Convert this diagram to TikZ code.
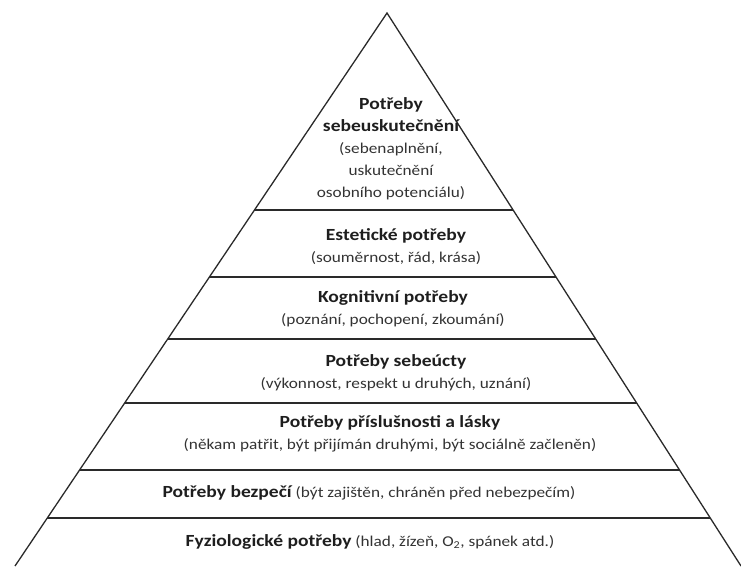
\documentclass[tikz,border=0pt]{standalone}
\usepackage{fontspec}
\setmainfont[FakeStretch=1.15]{Carlito}
\usetikzlibrary{calc}
\definecolor{inkc}{HTML}{1E1E1E}
\definecolor{subc}{HTML}{333333}
\definecolor{linec}{HTML}{2A2A2A}
\tikzset{
  side/.style={draw=linec, line width=1.3pt},
  tier/.style={draw=linec, line width=1.7pt},
  lbl/.style={text=subc, align=center, inner sep=0pt,
    font=\fontsize{15}{22}\selectfont},
}
\newcommand{\ttl}[1]{{\fontsize{17}{22}\selectfont\bfseries\color{inkc}#1}}
\begin{document}
\begin{tikzpicture}[x=1pt,y=-1pt]
\useasboundingbox (0,0) rectangle (741,566);
\coordinate (A) at (387,13);
\coordinate (BL) at (15,566);
\coordinate (BR) at (741,566);
\draw[side] (BL) -- (A) -- (BR);
\foreach \t/\n in {0.3562/1,0.4774/2,0.5895/3,0.7052/4,0.8264/5,0.9132/6}{
  \coordinate (L\n) at ($(A)!\t!(BL)$);
  \coordinate (R\n) at ($(A)!\t!(BR)$);
  \draw[tier] (L\n) -- (R\n);
}
\node[lbl] (t1) at (391,149) {\ttl{Potřeby}\\\ttl{sebeuskutečnění}\\(sebenaplnění,\\uskutečnění\\osobního potenciálu)};
\node[lbl] (t2) at (396,247) {\ttl{Estetické potřeby}\\(souměrnost, řád, krása)};
\node[lbl] (t3) at (393,309) {\ttl{Kognitivní potřeby}\\(poznání, pochopení, zkoumání)};
\node[lbl] (t4) at (396,373) {\ttl{Potřeby sebeúcty}\\(výkonnost, respekt u druhých, uznání)};
\node[lbl] (t5) at (390,434) {\ttl{Potřeby příslušnosti a lásky}\\(někam patřit, být přijímán druhými, být sociálně začleněn)};
\node[lbl] (t6) at (369,493) {\ttl{Potřeby bezpečí} (být zajištěn, chráněn před nebezpečím)};
\node[lbl] (t7) at (370,542) {\ttl{Fyziologické potřeby} (hlad, žízeň, O\textsubscript{2}, spánek atd.)};
\end{tikzpicture}
\end{document}
